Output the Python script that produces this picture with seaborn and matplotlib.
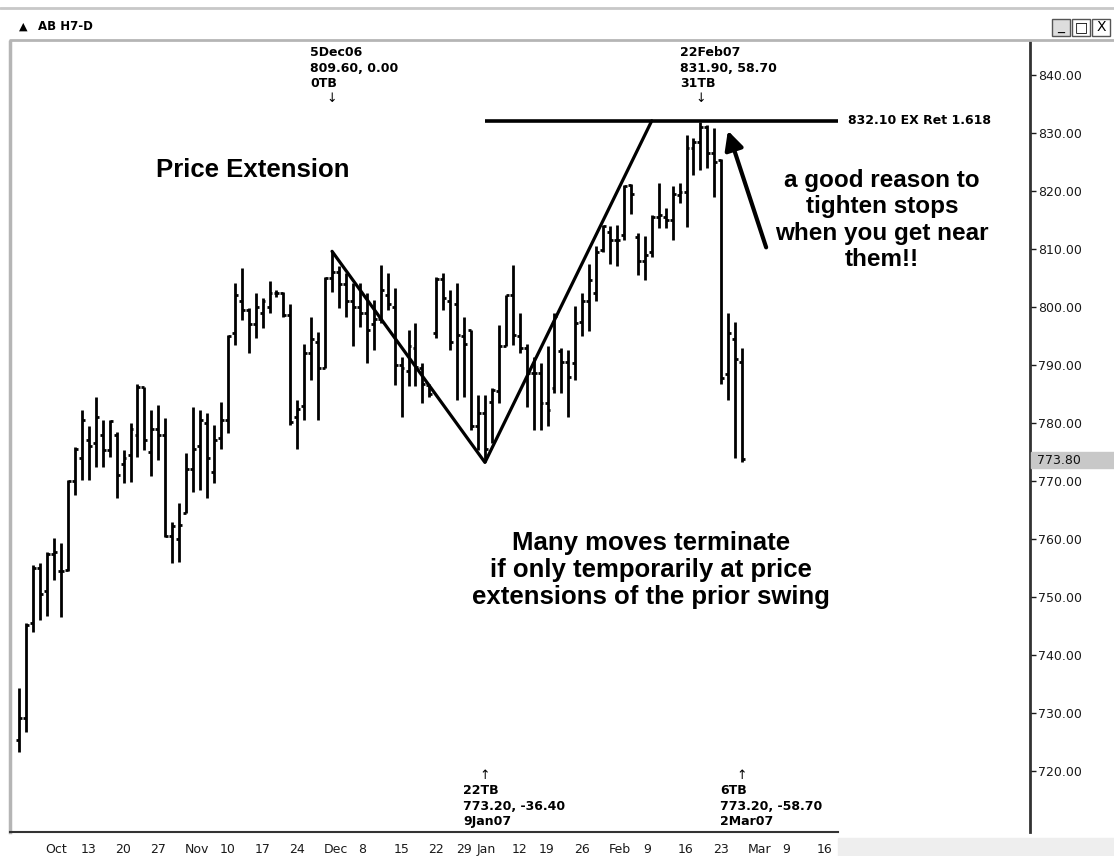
import matplotlib
matplotlib.use('Agg')
import matplotlib.pyplot as plt
import matplotlib.transforms as mtransforms
from matplotlib.patches import Rectangle
from matplotlib.lines import Line2D
import numpy as np
import pandas as pd
import seaborn as sns

# --- data (AB H7 daily bars, 3 Oct 2006 - 2 Mar 2007) ---
symbol = 'AB H7-D'
first_day = '2006-10-03'
last_axis_day = '2007-03-16'
closed_days = ['2006-12-25', '2007-01-01', '2007-01-02', '2007-01-15']

opens = [725.3, 729.1, 745.5, 755.0, 751.0, 757.5, 754.5, 754.6, 770.0, 774.0,
         777.0, 776.5, 778.0, 775.3, 778.0, 773.0, 774.5, 778.0, 786.2, 775.0,
         779.0, 778.0, 760.5, 760.0, 764.5, 772.0, 776.0, 780.0, 771.5, 777.5,
         780.5, 795.5, 801.0, 799.5, 797.0, 799.0, 800.0, 802.4, 802.4, 798.6,
         781.0, 783.0, 792.0, 794.0, 789.5, 805.0, 806.0, 804.0, 801.0, 800.0,
         799.0, 797.0, 798.0, 802.0, 800.0, 790.0, 789.0, 793.0, 789.5, 786.5,
         795.5, 804.8, 801.0, 800.6, 795.0, 796.0, 779.5, 781.7, 783.7, 785.5,
         793.2, 802.0, 795.0, 793.0, 788.6, 788.6, 783.5, 786.0, 792.5, 790.5,
         790.3, 797.5, 801.0, 802.5, 809.8, 813.0, 811.5, 812.5, 821.0, 812.0,
         808.0, 809.5, 815.6, 815.5, 815.0, 819.3, 819.8, 827.5, 828.5, 831.0,
         826.5, 825.3, 788.5, 794.5, 790.5]
highs = [734.3, 745.5, 755.5, 755.8, 757.8, 760.1, 759.3, 770.2, 775.9, 782.2,
         779.4, 784.5, 780.5, 780.5, 778.5, 775.3, 780.0, 786.8, 786.2, 782.2,
         783.1, 780.8, 763.0, 766.2, 774.8, 782.8, 782.2, 781.7, 779.6, 783.7,
         795.2, 804.1, 806.7, 799.8, 802.4, 801.5, 804.4, 803.0, 802.6, 800.6,
         784.0, 793.7, 798.3, 795.7, 805.2, 809.6, 807.0, 805.8, 804.1, 804.1,
         802.4, 801.2, 807.2, 805.8, 803.2, 791.4, 796.0, 797.2, 790.3, 786.8,
         805.2, 805.8, 802.9, 804.1, 798.3, 796.0, 784.8, 784.8, 786.0, 796.9,
         802.1, 807.2, 798.9, 793.7, 791.4, 790.3, 793.2, 798.9, 792.9, 792.6,
         800.1, 802.4, 807.5, 810.5, 814.2, 813.9, 814.1, 821.0, 821.2, 812.7,
         812.3, 815.9, 821.3, 817.0, 820.8, 821.3, 829.7, 829.1, 831.9, 831.4,
         830.8, 825.6, 798.9, 797.5, 792.9]
lows = [723.3, 726.8, 744.0, 746.0, 746.8, 752.9, 746.6, 754.4, 767.6, 770.2,
        770.2, 772.5, 772.5, 774.2, 767.0, 769.6, 769.9, 774.2, 775.3, 770.8,
        773.6, 760.4, 755.8, 756.1, 764.4, 768.1, 768.4, 767.0, 769.7, 775.5,
        778.2, 793.5, 797.8, 792.0, 794.6, 796.3, 798.9, 801.8, 798.3, 779.7,
        775.6, 780.5, 787.4, 780.5, 789.4, 802.6, 799.8, 798.3, 793.2, 796.6,
        790.3, 792.6, 797.2, 799.5, 786.6, 781.1, 786.3, 786.3, 783.4, 784.5,
        794.6, 799.5, 792.6, 784.0, 784.5, 778.8, 775.3, 773.2, 776.5, 783.4,
        793.2, 793.4, 792.0, 782.8, 778.8, 778.8, 779.4, 785.1, 785.1, 781.1,
        787.4, 795.0, 795.8, 801.0, 809.5, 807.5, 807.0, 811.6, 816.0, 805.5,
        804.7, 808.7, 813.7, 813.6, 811.6, 818.0, 813.8, 822.8, 823.6, 824.0,
        819.0, 786.8, 784.0, 774.0, 773.2]
closes = [729.1, 745.2, 755.0, 750.5, 757.5, 757.8, 754.4, 770.0, 775.5, 780.5,
          776.0, 781.0, 775.3, 780.3, 771.0, 774.0, 779.0, 786.2, 777.0, 779.0,
          778.0, 760.5, 762.2, 762.5, 772.0, 775.5, 780.5, 774.0, 777.0, 780.5,
          795.0, 802.0, 799.5, 797.0, 800.0, 801.0, 802.4, 802.4, 798.6, 780.2,
          782.5, 792.0, 794.5, 789.5, 805.0, 806.0, 804.0, 801.0, 800.0, 799.0,
          796.0, 798.0, 803.0, 800.5, 790.0, 789.5, 793.2, 789.7, 786.8, 785.0,
          804.8, 801.5, 794.0, 795.2, 793.7, 779.5, 781.7, 775.5, 785.7, 793.2,
          802.0, 795.2, 793.0, 788.6, 788.6, 783.5, 782.2, 798.5, 790.5, 788.0,
          797.2, 801.0, 804.7, 809.5, 814.0, 811.5, 811.5, 820.8, 819.5, 808.0,
          809.0, 815.6, 815.9, 815.0, 819.5, 819.8, 827.5, 828.5, 831.0, 826.5,
          825.0, 787.8, 795.5, 791.0, 773.8]

# swing points: 5Dec06 high, 9Jan07 low, 1.618 extension
swing_bar = [45, 67, 91]
swing_price = [809.60, 773.20, 832.10]
ext_level = 832.10
price_ticks = list(range(720, 850, 10))
last_price = 773.80

# --- layout helpers (pixel -> data) ---
W, H = 1114, 856


def fx(p):
    return (p - 19.3) / 6.95


def fy(p):
    return 840 - (p - 75) / 5.8


sns.set_theme(style='white')
plt.rcParams['font.family'] = ['DejaVu Sans']
plt.rcParams['text.color'] = 'black'

fig = plt.figure(figsize=(W / 100, H / 100), dpi=100)
fig.patch.set_facecolor('white')
ax = fig.add_axes([10 / W, 1 - 832 / H, 1020 / W, 790 / H])
ax.set_facecolor('white')

dates = pd.bdate_range(first_day, last_axis_day)
dates = dates.drop(pd.to_datetime(closed_days))
idx = np.arange(len(opens))

# OHLC bars
ax.vlines(idx, lows, highs, color='black', lw=2)
ax.hlines(opens, idx - 0.42, idx, color='black', lw=2)
ax.hlines(closes, idx, idx + 0.42, color='black', lw=2)

# swing lines
sns.lineplot(x=swing_bar, y=swing_price, ax=ax, color='black', lw=2.3,
             sort=False, estimator=None)
ax.hlines(ext_level, swing_bar[1], fx(838), color='black', lw=2.6)
ax.text(fx(848), ext_level, '832.10 EX Ret 1.618', va='center', ha='left',
        fontsize=9, fontweight='bold', color='black')

# axes
ax.set_xlim(fx(10), fx(1030))
ax.set_ylim(fy(832), fy(42))
ax.yaxis.tick_right()
ax.set_yticks(price_ticks)
ax.set_yticklabels(['%.2f' % v for v in price_ticks])
ax.tick_params(axis='y', direction='out', length=4, width=1, colors='#1a1a1a',
               labelsize=9, pad=2)

fridays = [i for i, d in enumerate(dates) if d.weekday() == 4]
labels = [dates[i].strftime('%b') if dates[i].day <= 7 else str(dates[i].day)
          for i in fridays]
ax.set_xticks(fridays)
ax.set_xticklabels(labels)
ax.tick_params(axis='x', direction='out', length=5, width=1, colors='#1a1a1a',
               labelsize=9, pad=3)
shift = mtransforms.ScaledTranslation(4 / 72, 0, fig.dpi_scale_trans)
for lbl in ax.get_xticklabels():
    lbl.set_ha('left')
    lbl.set_transform(lbl.get_transform() + shift)

ax.spines['top'].set_visible(False)
ax.spines['left'].set_color('#b5b5b5')
ax.spines['left'].set_linewidth(2.5)
ax.spines['right'].set_color('#333333')
ax.spines['right'].set_linewidth(2)
ax.spines['bottom'].set_color('#333333')
ax.spines['bottom'].set_linewidth(1.5)
ax.spines['bottom'].set_bounds(fx(10), fx(838))
ax.grid(False)

# swing labels
note = dict(fontsize=9, fontweight='bold', ha='left', va='top', linespacing=1.25,
            color='black')
ax.text(fx(310), fy(46), '5Dec06\n809.60, 0.00\n0TB', **note)
ax.text(swing_bar[0], fy(98), '\u2193', ha='center', va='center', fontsize=9)
ax.text(fx(680), fy(46), '22Feb07\n831.90, 58.70\n31TB', **note)
ax.text(98, fy(98), '\u2193', ha='center', va='center', fontsize=9)
ax.text(swing_bar[1], fy(776), '\u2191', ha='center', va='center', fontsize=9)
ax.text(fx(463), fy(784), '22TB\n773.20, -36.40\n9Jan07', **note)
ax.text(len(opens) - 1, fy(776), '\u2191', ha='center', va='center', fontsize=9)
ax.text(fx(720), fy(784), '6TB\n773.20, -58.70\n2Mar07', **note)

# commentary
big = dict(ha='center', va='center', fontweight='bold', family='Liberation Sans',
           linespacing=1.17, color='black')
fig.text(253 / W, 1 - 170 / H, 'Price Extension', fontsize=18.5, **big)
fig.text(882 / W, 1 - 220 / H,
         'a good reason to\ntighten stops\nwhen you get near\nthem!!',
         fontsize=17.5, **big)
fig.text(651 / W, 1 - 570 / H,
         'Many moves terminate\nif only temporarily at price\nextensions of the prior swing',
         fontsize=18.5, **big)
ax.annotate('', xy=(fx(727), fy(128)), xytext=(fx(767), fy(250)),
            arrowprops=dict(arrowstyle='-|>', lw=3, color='black',
                            mutation_scale=28))

# last price box on the price scale
fig.add_artist(Rectangle((1031 / W, 1 - 468 / H), 83 / W, 16 / H,
                         transform=fig.transFigure, color='#c8c8c8', zorder=3))
fig.text(1037 / W, 1 - 460 / H, '%.2f' % last_price, va='center', ha='left',
         fontsize=9, color='#111111', zorder=4)

# window chrome
fig.add_artist(Line2D([0, 1], [1 - 8 / H] * 2, color='#c8c8c8', lw=2))
fig.add_artist(Line2D([10 / W, 1], [1 - 40 / H] * 2, color='#b5b5b5', lw=2))
fig.add_artist(Rectangle((838 / W, 0), 276 / W, 18 / H, transform=fig.transFigure,
                         color='#eeeeee', zorder=0))
fig.text(19 / W, 1 - 27 / H, '\u25b2', fontsize=8, va='center', ha='left')
fig.text(38 / W, 1 - 27 / H, symbol, fontsize=8.5, fontweight='bold',
         va='center', ha='left')
for k, ch in enumerate(['_', '\u25a1', 'X']):
    x0 = 1052 + 20 * k
    fig.add_artist(Rectangle((x0 / W, 1 - 36 / H), 18 / W, 17 / H,
                             transform=fig.transFigure,
                             facecolor='#dddddd' if k == 0 else 'white',
                             edgecolor='#555555', lw=1))
    fig.text((x0 + 9) / W, 1 - 27 / H, ch, fontsize=10, ha='center', va='center')

fig.savefig('out.png', dpi=100)
